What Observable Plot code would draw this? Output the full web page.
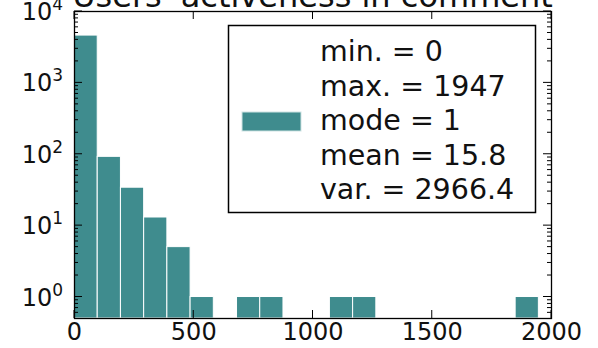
<!DOCTYPE html>
<html>
<head>
<meta charset="utf-8">
<script src="https://cdn.jsdelivr.net/npm/d3@7"></script>
<script src="https://cdn.jsdelivr.net/npm/@observablehq/plot@0.6"></script>
<style>
  html, body { margin: 0; padding: 0; background: white; }
  #chart { position: relative; width: 598px; height: 348px; overflow: hidden; }
  svg { font-family: "DejaVu Sans", sans-serif; }
</style>
</head>
<body>
<div id="chart"></div>
<script>
// ---- data ----
const title = "Users' activeness in comment";
const dataMin = 0;
const dataMax = 1947;
const binCounts = [4600, 92, 34, 13, 5, 1, 0, 1, 1, 0, 0, 1, 1, 0, 0, 0, 0, 0, 0, 1];
const xTicks = [0, 500, 1000, 1500, 2000];
const yTicks = [1, 10, 100, 1000, 10000];
const yTickBase = "10";
const yTickExponents = ["0", "1", "2", "3", "4"];
const legendLines = ["min. = 0", "max. = 1947", "mode = 1", "mean = 15.8", "var. = 2966.4"];

const barColor = "#3f8c8e";
const yDomain = [0.5, 10000];
const xDomain = [0, 2000];

const binWidth = (dataMax - dataMin) / binCounts.length;
const bins = binCounts.map((c, i) => ({x1: dataMin + i * binWidth, x2: dataMin + (i + 1) * binWidth, count: c}))
  .filter(d => d.count > 0);

const minorY = [];
for (let e = -1; e <= 3; e++) for (let k = 2; k <= 9; k++) {
  const v = k * Math.pow(10, e);
  if (v > yDomain[0] && v < yDomain[1]) minorY.push(v);
}

const svg = Plot.plot({
  width: 598,
  height: 348,
  marginLeft: 74,
  marginRight: 47,
  marginTop: 11,
  marginBottom: 30,
  style: {fontFamily: "DejaVu Sans", fontSize: "24px", color: "#111", overflow: "visible"},
  x: {domain: xDomain},
  y: {type: "log", domain: yDomain, axis: null},
  marks: [
    Plot.rectY(bins, {x1: "x1", x2: "x2", y1: yDomain[0], y2: "count", fill: barColor, stroke: "white", strokeWidth: 1}),
    Plot.frame({stroke: "black", strokeWidth: 1.3}),
    Plot.axisX({ticks: xTicks, tickSize: 0, tickPadding: 4, tickFormat: d => String(d), fontSize: 24, label: null})
  ]
});

const sx = svg.scale("x"), sy = svg.scale("y");
const X0 = sx.range[0], X1 = sx.range[1];
const Y0 = sy.range[0], Y1 = sy.range[1];
const s = d3.select(svg);
const tg = s.append("g").attr("stroke", "black").attr("stroke-width", 1);

// inward x ticks, bottom and top
xTicks.forEach(v => {
  const x = sx.apply(v);
  tg.append("line").attr("x1", x).attr("x2", x).attr("y1", Y0).attr("y2", Y0 - 8);
  tg.append("line").attr("x1", x).attr("x2", x).attr("y1", Y1).attr("y2", Y1 + 8);
});
// inward y ticks, major and minor, left and right
yTicks.forEach(v => {
  const y = sy.apply(v);
  tg.append("line").attr("x1", X0).attr("x2", X0 + 8).attr("y1", y).attr("y2", y);
  tg.append("line").attr("x1", X1).attr("x2", X1 - 8).attr("y1", y).attr("y2", y);
});
minorY.forEach(v => {
  const y = sy.apply(v);
  tg.append("line").attr("x1", X0).attr("x2", X0 + 4).attr("y1", y).attr("y2", y);
  tg.append("line").attr("x1", X1).attr("x2", X1 - 4).attr("y1", y).attr("y2", y);
});

// y tick labels with superscripts
yTicks.forEach((v, i) => {
  const t = s.append("text")
    .attr("x", X0 - 11).attr("y", sy.apply(v) + 9)
    .attr("text-anchor", "end").attr("font-size", 24).attr("fill", "#111");
  t.append("tspan").text(yTickBase);
  t.append("tspan").attr("dy", -10).attr("font-size", 17).text(yTickExponents[i]);
});

// title (partly cut off at the top like the reference)
s.append("text")
  .attr("x", (X0 + X1) / 2).attr("y", 7)
  .attr("text-anchor", "middle")
  .attr("font-size", 32)
  .attr("fill", "#111")
  .text(title);

// legend
const lg = s.append("g");
lg.append("rect").attr("x", 228.5).attr("y", 25.5).attr("width", 307).attr("height", 187)
  .attr("fill", "white").attr("stroke", "black").attr("stroke-width", 1.5);
lg.append("rect").attr("x", 242).attr("y", 112).attr("width", 59).attr("height", 19)
  .attr("fill", barColor).attr("stroke", "#cfe3e3").attr("stroke-width", 1);
legendLines.forEach((t, i) => {
  lg.append("text").attr("x", 320).attr("y", 61 + i * 34.5)
    .attr("text-anchor", "start")
    .attr("font-size", 28.5).attr("fill", "#111").text(t);
});

document.getElementById("chart").appendChild(svg);
</script>
</body>
</html>
